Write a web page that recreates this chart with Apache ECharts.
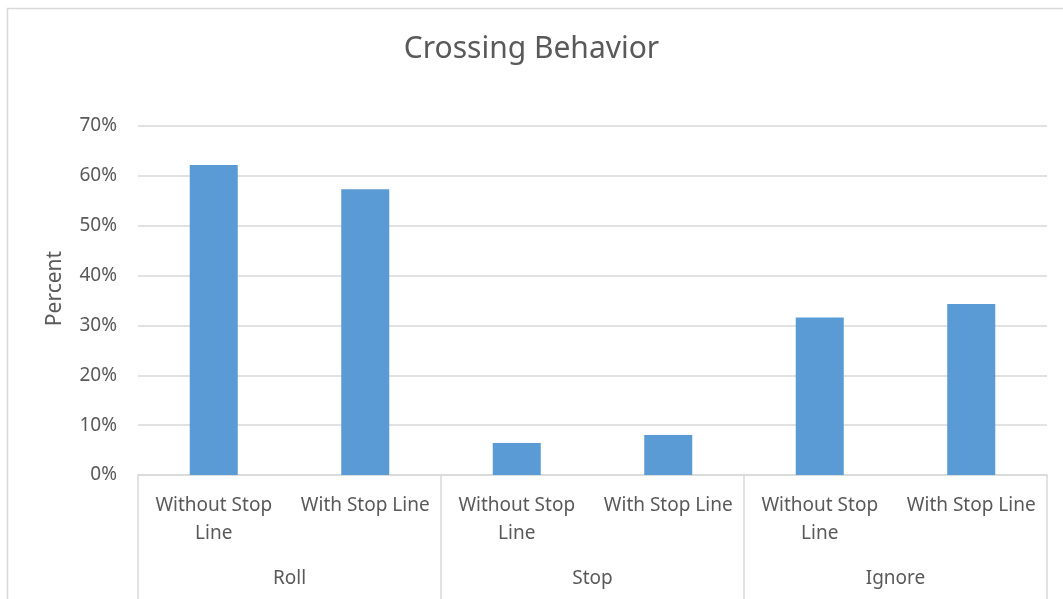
<!DOCTYPE html>
<html>
<head>
<meta charset="utf-8">
<script src="https://cdn.jsdelivr.net/npm/echarts@6/dist/echarts.min.js"></script>
<style>
html,body{margin:0;padding:0;background:#fff;}
#chart{width:1063px;height:599px;}
</style>
</head>
<body>
<div id="chart"></div>
<script>
const groups = ['Roll', 'Stop', 'Ignore'];
const subCategories = ['Without Stop Line', 'With Stop Line', 'Without Stop Line', 'With Stop Line', 'Without Stop Line', 'With Stop Line'];
const percentValues = [0.622, 0.573, 0.064, 0.080, 0.316, 0.343];
const yTicks = [0, 0.1, 0.2, 0.3, 0.4, 0.5, 0.6, 0.7];

const FONT = 'Noto Sans';
const TXT = '#595959';
const chart = echarts.init(document.getElementById('chart'));
chart.setOption({
  animation: false,
  textStyle: {fontFamily: FONT},
  title: {
    text: 'Crossing Behavior',
    left: 'center',
    top: 29,
    textStyle: {fontFamily: FONT, fontSize: 30, fontWeight: 'normal', color: TXT}
  },
  graphic: [{
    type: 'rect', silent: true, z: -1,
    shape: {x: 7.5, y: 8.5, width: 1100, height: 700},
    style: {fill: 'none', stroke: '#d9d9d9', lineWidth: 1.5}
  }],
  grid: {left: 138, right: 16, top: 126, bottom: 124},
  xAxis: [{
    type: 'category',
    data: subCategories,
    axisLine: {lineStyle: {color: '#d9d9d9', width: 1.5}},
    axisTick: {show: false},
    axisLabel: {
      interval: 0, color: TXT, fontSize: 19, margin: 17, lineHeight: 28,
      formatter: v => v.length > 15 ? v.replace(/ (\S+)$/, '\n$1') : v
    }
  }, {
    type: 'category',
    data: groups,
    position: 'bottom',
    axisLine: {show: false},
    axisTick: {show: true, length: 130, lineStyle: {color: '#d9d9d9', width: 1.5}},
    axisLabel: {interval: 0, color: TXT, fontSize: 19, margin: 94}
  }],
  yAxis: {
    type: 'value',
    min: 0, max: 0.7, interval: 0.1,
    name: 'Percent',
    nameLocation: 'middle',
    nameRotate: 90,
    nameGap: 72,
    nameTextStyle: {color: TXT, fontSize: 21, fontFamily: FONT, padding: [0, 0, 0, 24]},
    axisLine: {show: false},
    axisTick: {show: false},
    splitLine: {lineStyle: {color: '#d9d9d9', width: 1.5}},
    axisLabel: {
      color: TXT, fontSize: 19, margin: 21,
      formatter: v => yTicks.some(t => Math.abs(t - v) < 1e-9) ? Math.round(v * 100) + '%' : ''
    }
  },
  series: [{
    type: 'bar',
    xAxisIndex: 0,
    data: percentValues,
    barWidth: '31.7%',
    itemStyle: {color: '#5b9bd5'}
  }]
});
</script>
</body>
</html>
